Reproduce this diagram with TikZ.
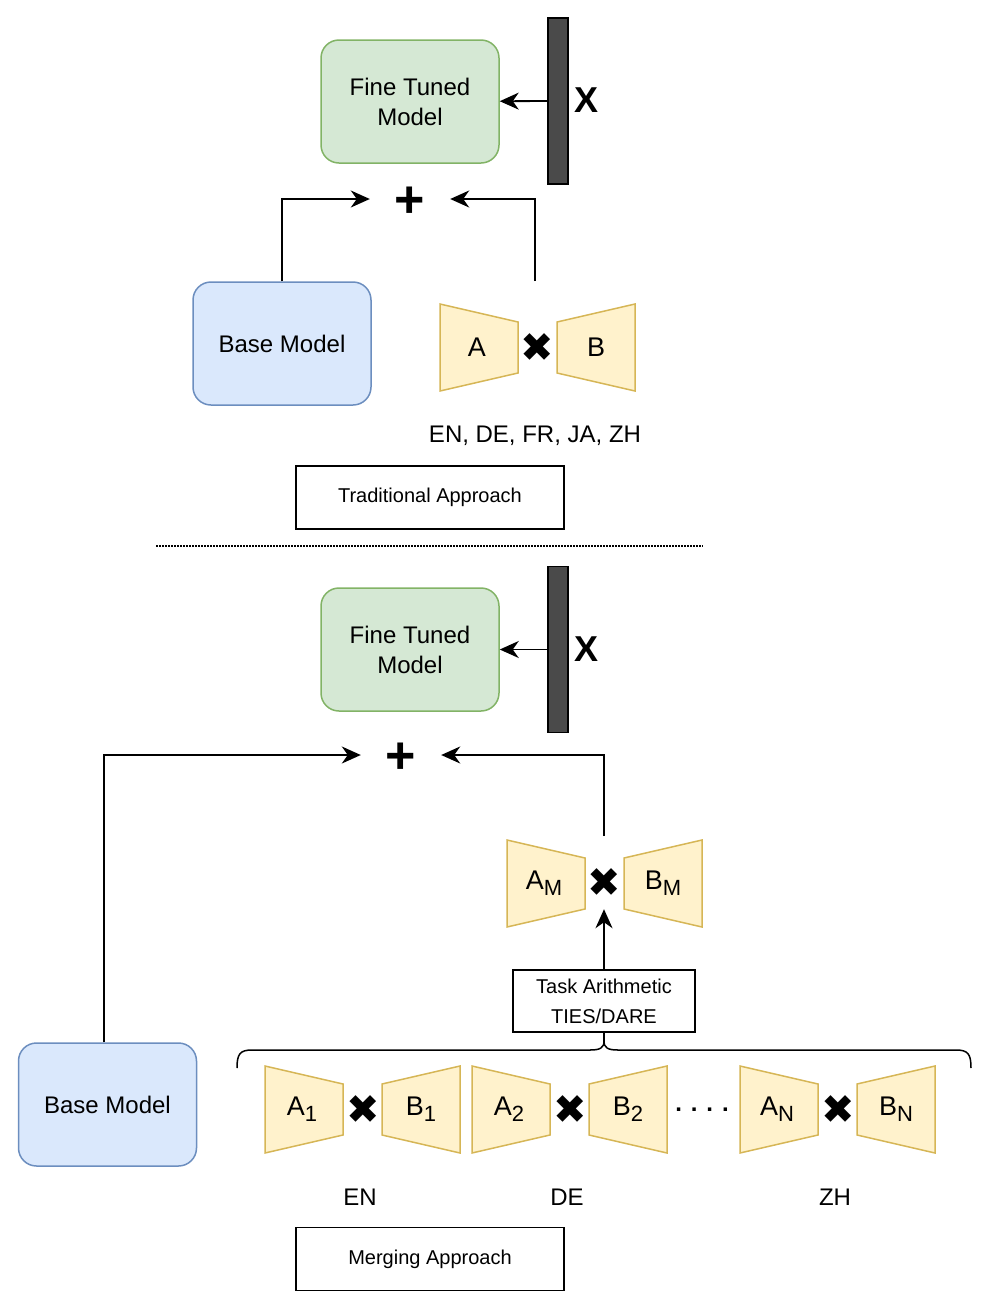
\documentclass[tikz,border=0pt]{standalone}
\usepackage{fontspec}
\setmainfont{Liberation Sans}
\newfontfamily\symfont{DejaVu Sans}
\usetikzlibrary{arrows.meta}
\definecolor{ftfill}{HTML}{D5E8D4}
\definecolor{ftdraw}{HTML}{82B366}
\definecolor{basefill}{HTML}{DAE8FC}
\definecolor{basedraw}{HTML}{6C8EBF}
\definecolor{lorafill}{HTML}{FFF2CC}
\definecolor{loradraw}{HTML}{D6B656}
\definecolor{bargray}{HTML}{4A4A4A}
\newcommand\lsub[1]{\raisebox{-6pt}{\fontsize{22}{22}\selectfont #1}}
\tikzset{
    pics/loraA/.style={code={\draw[lora] (0,0) -- (78,18) -- (78,69) -- (0,87) -- cycle; \node[loratext] (-t) at (37,43) {#1};}},
    pics/loraB/.style={code={\draw[lora] (0,18) -- (78,0) -- (78,87) -- (0,69) -- cycle; \node[loratext] (-t) at (39,43) {#1};}}
}
\begin{document}
\begin{tikzpicture}[x=1pt, y=-1pt,
    every node/.style={font=\fontsize{24}{30}\selectfont},
    ft/.style={draw=ftdraw, fill=ftfill, rounded corners=18pt, line width=1.5pt, minimum width=178pt, minimum height=123pt, align=center},
    base/.style={draw=basedraw, fill=basefill, rounded corners=18pt, line width=1.5pt, minimum width=178pt, minimum height=123pt},
    bar/.style={draw, fill=bargray, line width=1.8pt, minimum width=20pt, minimum height=166pt, inner sep=0pt},
    labelbox/.style={draw, line width=1.5pt, minimum width=268pt, minimum height=63pt, font=\fontsize{20}{30}\selectfont},
    taskbox/.style={draw, line width=1.5pt, minimum width=182pt, minimum height=62pt, align=center, font=\fontsize{20}{30}\selectfont},
    plus/.style={font=\fontsize{52}{52}\selectfont\bfseries, minimum width=80pt, inner sep=0pt, text height=37pt, text depth=0pt},
    xin/.style={font=\fontsize{36}{36}\selectfont\bfseries},
    mul/.style={font=\symfont\fontsize{40}{40}\selectfont, minimum size=52pt, inner sep=0pt},
    arr/.style={-{Stealth[length=19pt, width=17pt, inset=6pt]}, line width=1.8pt},
    lora/.style={draw=loradraw, fill=lorafill, line width=1.5pt},
    loratext/.style={font=\fontsize{27}{30}\selectfont}]
\useasboundingbox (0,0) rectangle (996,1310);

\node[ft] (ft1) at (410,101.5) {Fine Tuned\\Model};
\node[bar] (bar1) at (558,101) {};
\node[xin] (x1) at (587,100) {X};
\node[plus] (plus1) at (410,199) {+};
\node[base] (base1) at (282,343.5) {Base Model};
\pic (a) at (440,304) {loraA=A};
\node[mul] (m0) at (537,348) {✖};
\pic (b) at (557,304) {loraB=B};
\coordinate (out1) at (535,281);
\node (langs) at (535,436) {EN, DE, FR, JA, ZH};
\node[labelbox] (trad) at (430,497.5) {Traditional Approach};

\draw[arr] (bar1) -- (ft1);
\draw[arr] (base1) |- (plus1);
\draw[arr] (out1) |- (plus1);

\draw[line width=1.5pt, dash pattern=on 1.5pt off 1.5pt] (156,546) -- (703,546);

\node[ft] (ft2) at (410,649.5) {Fine Tuned\\Model};
\node[bar] (bar2) at (558,649.5) {};
\node[xin] (x2) at (587,649) {X};
\node[plus] (plus2) at (401,755) {+};
\pic (am) at (507,840) {loraA={A\lsub{M}}};
\node[mul] (mM) at (604,883) {✖};
\pic (bm) at (624,840) {loraB={B\lsub{M}}};
\coordinate (out2) at (604,836);
\node[taskbox] (task) at (604,1001) {Task Arithmetic\\TIES/DARE};
\node[base] (base2) at (107.5,1104.5) {Base Model};

\foreach \x/\s/\lang [count=\i] in {265/1/EN, 472/2/DE, 740/N/ZH} {
    \pic (a\i) at (\x,1066) {loraA={A\lsub{\s}}};
    \node[mul] (m\i) at (\x+98,1110) {✖};
    \pic (b\i) at (\x+117,1066) {loraB={B\lsub{\s}}};
    \node (lang\i) at (\x+95,1197) {\lang};
}
\node[font=\fontsize{24}{30}\selectfont\bfseries] (dots) at (702,1110) {. . . .};
\node[labelbox] (merge) at (430,1259) {Merging Approach};

\draw[line width=1.5pt] (237,1068) .. controls (237,1054) and (240,1050) .. (252,1050) -- (590,1050)
    .. controls (600,1050) and (604,1048) .. (604,1041) coordinate (tip)
    .. controls (604,1048) and (608,1050) .. (618,1050) -- (956,1050)
    .. controls (968,1050) and (971,1054) .. (971,1068);

\draw[arr] (bar2) -- (ft2);
\draw[arr] ([xshift=-3.5pt]base2.north) |- (plus2);
\draw[arr] (out2) |- (plus2);
\draw[arr] (task) -- (mM);
\draw[line width=1.5pt] (task) -- (tip);
\end{tikzpicture}
\end{document}
